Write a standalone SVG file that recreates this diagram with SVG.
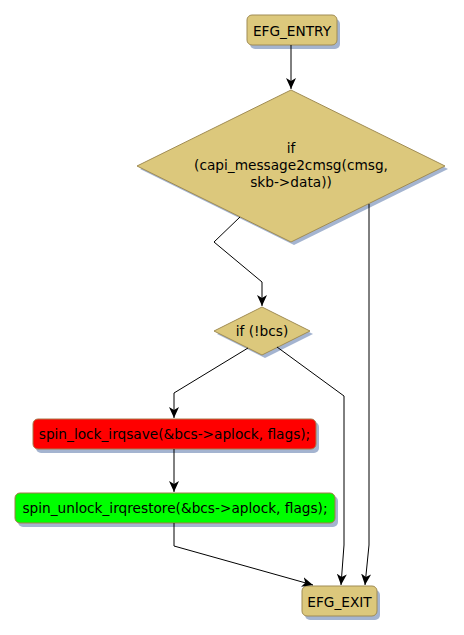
<svg xmlns="http://www.w3.org/2000/svg" width="464" height="635" viewBox="0 0 464 635">
<style>
text{font-family:"DejaVu Sans",Verdana,sans-serif;font-size:13.7px;fill:#000;text-anchor:middle}
.gold{fill:#dcc87c;stroke:#a08c54;stroke-width:1}
.sh{fill:#a4b4d0}
.red{fill:#ff0000;stroke:#a8784a;stroke-width:1}
.green{fill:#00ff00;stroke:#a8784a;stroke-width:1}
.edge{fill:none;stroke:#000;stroke-width:1;marker-end:url(#arr)}
</style>
<defs>
<marker id="arr" markerUnits="userSpaceOnUse" markerWidth="12" markerHeight="12" refX="11" refY="5" orient="auto" viewBox="0 0 12 10">
<path d="M0,0 L11,5 L0,10 L3,5 z" fill="#000"/>
</marker>
</defs>
<g id="entry">
<rect class="sh" x="250" y="19" width="90" height="30" rx="5"/>
<rect class="gold" x="247" y="15" width="90" height="30" rx="5"/>
<text x="292" y="36">EFG_ENTRY</text>
</g>
<g id="cond1">
<polygon class="sh" points="294,93 448,169 294,245 140,169"/>
<polygon class="gold" points="291,90 445,166 291,242 137,166"/>
<text x="291" y="153">if</text>
<text x="291" y="170">(capi_message2cmsg(cmsg,</text>
<text x="291" y="187">skb-&gt;data))</text>
</g>
<g id="cond2">
<polygon class="sh" points="265,310 313,334 265,358 217,334"/>
<polygon class="gold" points="262,307 310,331 262,355 214,331"/>
<text x="262" y="336">if (!bcs)</text>
</g>
<g id="lock">
<rect class="sh" x="36" y="422" width="283" height="31" rx="5"/>
<rect class="red" x="33" y="419" width="283" height="30" rx="5"/>
<text x="174.5" y="439">spin_lock_irqsave(&amp;bcs-&gt;aplock, flags);</text>
</g>
<g id="unlock">
<rect class="sh" x="18" y="496" width="320" height="31" rx="5"/>
<rect class="green" x="15" y="493" width="320" height="30" rx="5"/>
<text x="175" y="513">spin_unlock_irqrestore(&amp;bcs-&gt;aplock, flags);</text>
</g>
<g id="exit">
<rect class="sh" x="305" y="590" width="75" height="30" rx="5"/>
<rect class="gold" x="302" y="586" width="75" height="30" rx="5"/>
<text x="339.5" y="607">EFG_EXIT</text>
</g>
<g id="edges">
<path class="edge" d="M291,45 V89"/>
<path class="edge" d="M240,217 L214,242 L262,282 V306"/>
<path class="edge" d="M369,204 V545 L365,585"/>
<path class="edge" d="M248,348 L174,393 V418"/>
<path class="edge" d="M277,347 L344,396 V545 L341,585"/>
<path class="edge" d="M174,449 V492"/>
<path class="edge" d="M174,523 V546 L313,585"/>
</g>
</svg>
